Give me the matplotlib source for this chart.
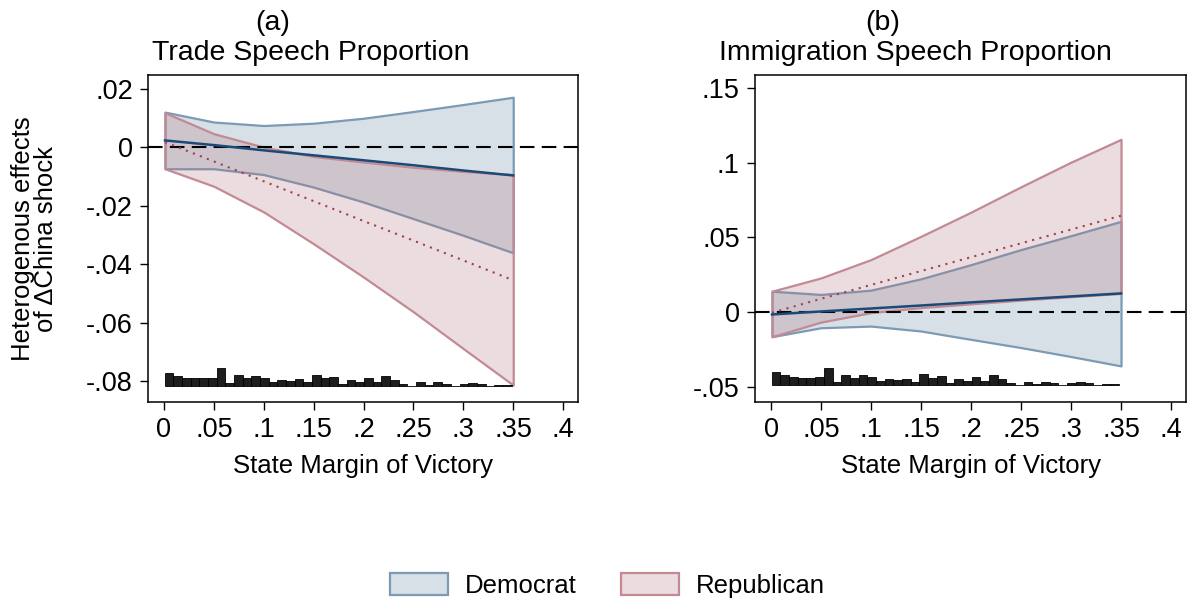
import matplotlib
matplotlib.use("Agg")
import matplotlib.pyplot as plt
from matplotlib.patches import Patch
from matplotlib.ticker import FuncFormatter
import numpy as np

plt.rcParams['font.family'] = ['Liberation Sans', 'DejaVu Sans']
plt.rcParams['axes.unicode_minus'] = False

# margin of victory grid where the effects are evaluated
margin = [0.001, 0.05, 0.10, 0.15, 0.20, 0.25, 0.30, 0.35]

# (a) trade speech proportion
dem_hi_a = [0.0121, 0.0087, 0.0075, 0.0083, 0.0100, 0.0123, 0.0147, 0.0172]
dem_lo_a = [-0.0073, -0.0073, -0.0093, -0.0136, -0.0187, -0.0244, -0.0301, -0.0361]
dem_mid_a = [0.0024, 0.0008, -0.0010, -0.0027, -0.0044, -0.0061, -0.0079, -0.0096]
rep_hi_a = [0.0119, 0.0047, 0.0001, -0.0031, -0.0050, -0.0068, -0.0082, -0.0093]
rep_lo_a = [-0.0073, -0.0133, -0.0221, -0.0330, -0.0444, -0.0563, -0.0689, -0.0814]
rep_mid_a = [0.0018, -0.0048, -0.0116, -0.0184, -0.0252, -0.0319, -0.0387, -0.0455]

# (b) immigration speech proportion
dem_hi_b = [0.0140, 0.0118, 0.0147, 0.0223, 0.0318, 0.0419, 0.0512, 0.0608]
dem_lo_b = [-0.0165, -0.0105, -0.0094, -0.0127, -0.0183, -0.0238, -0.0298, -0.0361]
dem_mid_b = [-0.0016, 0.0004, 0.0024, 0.0044, 0.0065, 0.0085, 0.0105, 0.0125]
rep_hi_b = [0.0140, 0.0229, 0.0352, 0.0508, 0.0670, 0.0840, 0.1005, 0.1158]
rep_lo_b = [-0.0165, -0.0067, -0.0004, 0.0030, 0.0055, 0.0080, 0.0103, 0.0125]
rep_mid_b = [-0.0004, 0.0089, 0.0182, 0.0275, 0.0368, 0.0461, 0.0553, 0.0646]

# histogram of margin of victory (relative bin heights, 40 bins)
hist_counts = [40, 30, 25, 23, 23, 25, 53, 8, 32, 23, 31, 25, 13, 18, 15, 20,
               11, 34, 23, 28, 6, 18, 13, 24, 13, 30, 18, 6, 1, 11, 2, 11,
               5, 1, 6, 10, 5, 0, 3, 3]
hist_lo, hist_hi = 0.0007, 0.3483

xticks = [0, .05, .1, .15, .2, .25, .3, .35, .4]
yticks_a = [-.08, -.06, -.04, -.02, 0, .02]
yticks_b = [-.05, 0, .05, .1, .15]

dem_face = (93/255, 127/255, 156/255, 0.24)
dem_edge = '#7d9ab4'
rep_face = (172/255, 110/255, 122/255, 0.24)
rep_edge = '#c28a94'


def stata_fmt(v, pos):
    s = f"{v:.2f}".rstrip('0').rstrip('.')
    if s in ('-0', ''):
        s = '0'
    s = s.replace('0.', '.')
    return s


def panel(ax, dhi, dlo, dmid, rhi, rlo, rmid, ylim, yticks, hist_base):
    ax.fill_between(margin, dlo, dhi, facecolor=dem_face, edgecolor=dem_edge, linewidth=1.6, zorder=2)
    ax.fill_between(margin, rlo, rhi, facecolor=rep_face, edgecolor=rep_edge, linewidth=1.6, zorder=3)
    ax.axhline(0, color='black', linestyle=(0, (7, 3.5)), linewidth=1.5, zorder=4)
    ax.plot(margin, rmid, color='#a3404e', linestyle=(0, (1.0, 2.6)), linewidth=1.5, zorder=5)
    ax.plot(margin, dmid, color='#1c4a78', linewidth=1.8, zorder=6)

    yr = ylim[1] - ylim[0]
    edges = np.linspace(hist_lo, hist_hi, len(hist_counts) + 1)
    h = np.array(hist_counts) / max(hist_counts) * 0.054 * yr
    ax.bar(edges[:-1], h, width=edges[1] - edges[0], bottom=hist_base, align='edge',
           color='#1e1e1e', edgecolor='black', linewidth=0.6, zorder=3)

    ax.set_xlim(-0.016, 0.415)
    ax.set_ylim(*ylim)
    ax.set_xticks(xticks)
    ax.set_yticks(yticks)
    ax.xaxis.set_major_formatter(FuncFormatter(stata_fmt))
    ax.yaxis.set_major_formatter(FuncFormatter(stata_fmt))
    ax.tick_params(direction='out', length=6, width=1.0, labelsize=19.5, pad=5)
    for sp in ax.spines.values():
        sp.set_linewidth(1.1)
    ax.set_xlabel('State Margin of Victory', fontsize=18.5, labelpad=8)


fig = plt.figure(figsize=(11.89, 6.05), dpi=100)
ax1 = fig.add_axes([0.1245, 0.3355, 0.3617, 0.5405])
ax2 = fig.add_axes([0.635, 0.3355, 0.3625, 0.5405])

panel(ax1, dem_hi_a, dem_lo_a, dem_mid_a, rep_hi_a, rep_lo_a, rep_mid_a,
      (-0.0872, 0.0248), yticks_a, -0.0817)
panel(ax2, dem_hi_b, dem_lo_b, dem_mid_b, rep_hi_b, rep_lo_b, rep_mid_b,
      (-0.0603, 0.1589), yticks_b, -0.0490)

ax1.set_ylabel('Heterogenous effects\nof \u0394China shock', fontsize=18.5, labelpad=20, linespacing=0.95)

fig.text(0.229, 0.962, '(a)', fontsize=20.5, ha='center', va='center')
fig.text(0.261, 0.913, 'Trade Speech Proportion', fontsize=20.5, ha='center', va='center')
fig.text(0.742, 0.962, '(b)', fontsize=20.5, ha='center', va='center')
fig.text(0.770, 0.913, 'Immigration Speech Proportion', fontsize=20.5, ha='center', va='center')

handles = [Patch(facecolor=dem_face, edgecolor=dem_edge, linewidth=1.6, label='Democrat'),
           Patch(facecolor=rep_face, edgecolor=rep_edge, linewidth=1.6, label='Republican')]
fig.legend(handles=handles, loc='center', bbox_to_anchor=(0.511, 0.033), ncol=2, frameon=False,
           fontsize=18.5, handlelength=2.26, handleheight=0.97, handletextpad=0.66, columnspacing=1.7)

fig.savefig('out.png', dpi=100)
